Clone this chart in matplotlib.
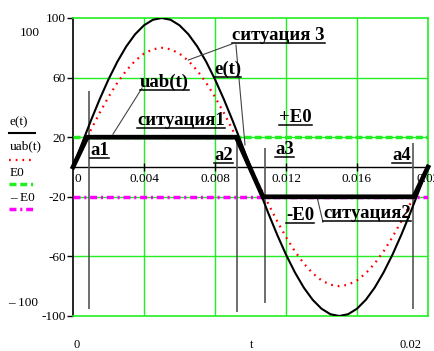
import matplotlib
matplotlib.use("Agg")
import matplotlib.pyplot as plt
from matplotlib.lines import Line2D
from matplotlib.transforms import offset_copy

plt.rcParams["font.family"] = ["Liberation Serif", "DejaVu Serif"]
plt.rcParams["axes.unicode_minus"] = False

# --- data ----------------------------------------------------------------
# time samples, every 0.5 ms over one period
t = [i * 0.0005 for i in range(41)]
# e(t), source voltage
e_vals = [0, 15.6, 30.9, 45.4, 58.8, 70.7, 80.9, 89.1, 95.1, 98.8,
          100, 98.8, 95.1, 89.1, 80.9, 70.7, 58.8, 45.4, 30.9, 15.6,
          0, -15.6, -30.9, -45.4, -58.8, -70.7, -80.9, -89.1, -95.1, -98.8,
          -100, -98.8, -95.1, -89.1, -80.9, -70.7, -58.8, -45.4, -30.9, -15.6, 0]
# uab(t), dotted red
uab_vals = [0, 12.5, 24.7, 36.3, 47.0, 56.6, 64.7, 71.3, 76.1, 79.0,
            80, 79.0, 76.1, 71.3, 64.7, 56.6, 47.0, 36.3, 24.7, 12.5,
            0, -12.5, -24.7, -36.3, -47.0, -56.6, -64.7, -71.3, -76.1, -79.0,
            -80, -79.0, -76.1, -71.3, -64.7, -56.6, -47.0, -36.3, -24.7, -12.5, 0]
# thick piecewise line ("situations")
sit_t = [0, 0.0008, 0.0092, 0.0107, 0.0192, 0.02]
sit_v = [0, 20, 20, -20, -20, 0]
E0 = 20
# switching instants a1..a4 and their marker extents
a_t = [0.0009, 0.00924, 0.0108, 0.01915]
a_top = [51, 20, 13, 16]
a_bot = [-95, -97, -91, -95]

yticks = [100, 60, 20, -20, -60, -100]
xticks = [0.0, 0.004, 0.008, 0.012, 0.016, 0.02]
xtick_labels = ["0", "0.004", "0.008", "0.012", "0.016", "0.02"]

GREEN = "#22ee22"
MAGENTA = "#ff00ff"

fig = plt.figure(figsize=(4.35, 3.51), dpi=100)
ax = fig.add_axes([73 / 435, 35 / 351, 355 / 435, 298 / 351])
ax.set_xlim(0, 0.02)
ax.set_ylim(-100, 100)

# frame + grid, Mathcad style
for side in ("top", "right", "bottom"):
    ax.spines[side].set_color(GREEN)
    ax.spines[side].set_linewidth(1.2)
ax.spines["left"].set_color("black")
ax.spines["left"].set_linewidth(1.2)
for x in xticks[1:-1]:
    ax.axvline(x, color=GREEN, lw=1.0, zorder=1)
for y in yticks[1:-1]:
    ax.axhline(y, color=GREEN, lw=1.0, zorder=1)
ax.axhline(0, color="black", lw=1.0, zorder=2)
ax.vlines(xticks[1:-1], -2.5, 2.5, color="black", lw=1.0, zorder=2)

ax.set_xticks([])
ax.set_yticks(yticks)
ax.set_yticklabels([str(v) for v in yticks])
ax.tick_params(axis="y", direction="out", length=4, width=1, pad=1,
               labelsize=9.5, colors="black")

for x, lab in zip(xticks, xtick_labels):
    tr = offset_copy(ax.transData, fig=fig, x=1 if x == 0 else 0, y=-4, units="points")
    ax.text(x, 0, lab, ha="left" if x == 0 else "center", va="top",
            fontsize=9.5, transform=tr, clip_on=False)

# reference levels
ax.plot([0, 0.02], [E0, E0], color=GREEN, lw=2.5, dashes=(2, 0.9), zorder=3)
ax.plot([0, 0.02], [-E0, -E0], color=MAGENTA, lw=2.5,
        dashes=(2, 1.1, 0.6, 1.1), zorder=3)

# markers for a1..a4
ax.vlines(a_t, a_bot, a_top, color="#555555", lw=1.2, zorder=2)

# curves
ax.plot(t, uab_vals, color="red", lw=1.6, dashes=(0.8, 2.2), zorder=4)
ax.plot(t, e_vals, color="black", lw=1.5, zorder=5)
ax.plot(sit_t, sit_v, color="black", lw=3.4, solid_joinstyle="miter",
        zorder=6, clip_on=False)

# leader lines
leaders = [
    ([0.00389, 0.00225], [53, 22]),
    ([0.00896, 0.0065], [82.6, 71.8]),
    ([0.00918, 0.00969], [81.9, 14.8]),
    ([0.01375, 0.01408], [-20.1, -37]),
]
for xs, ys in leaders:
    ax.plot(xs, ys, color="#444444", lw=0.8, zorder=5)

# underlined bold labels (x, y of underline start)
labels = [
    ("uab(t)", 0.00377, 51.7),
    ("ситуация 3", 0.00896, 83.2),
    ("e(t)", 0.00794, 60.4),
    ("ситуация1", 0.0036, 26.2),
    ("+E0", 0.0116, 28.2),
    ("a1", 0.00096, 6.0),
    ("a2", 0.00794, 2.7),
    ("a3", 0.01138, 6.7),
    ("a4", 0.01797, 2.7),
    ("-E0", 0.0120, -37.6),
    ("ситуация2", 0.01408, -36.2),
]
lab_artists = []
for s, x, y in labels:
    tr = offset_copy(ax.transData, fig=fig, x=0, y=2.2, units="points")
    txt = ax.text(x, y, s, fontsize=13.5, fontweight="bold", ha="left",
                  va="baseline", transform=tr, zorder=7)
    lab_artists.append((txt, y))

# legend on the left (figure pixels, top-left origin)
def px(x, y):
    return x / 435, 1 - y / 351

legend = [
    ("e(t)", 122, 133, dict(color="black", lw=1.5)),
    ("uab(t)", 146, 160, dict(color="red", lw=1.6, dashes=(0.8, 2.2))),
    ("E0", 173, 184, dict(color=GREEN, lw=2.5, dashes=(2, 1.1, 2, 1.1, 0.6, 1.1))),
    ("\u2013 E0", 198, 209, dict(color=MAGENTA, lw=2.5, dashes=(2, 1.1, 0.6, 1.1))),
]
for s, ty, ly, style in legend:
    fig.text(*px(10, ty), s, fontsize=9.5, va="center", ha="left")
    (x0, y0), (x1, _) = px(9, ly), px(35, ly)
    fig.add_artist(Line2D([x0, x1], [y0, y0], **style))

# Mathcad range labels outside the plot
fig.text(*px(20, 33), "100", fontsize=9.5, va="center", ha="left")
fig.text(*px(8, 303), "\u2013 100", fontsize=9.5, va="center", ha="left")
fig.text(*px(73, 339), "0", fontsize=9, va="top", ha="left")
fig.text(*px(250, 339), "t", fontsize=9, va="top", ha="left")
fig.text(*px(400, 339), "0.02", fontsize=9, va="top", ha="left")

# underline each label under its own text width
fig.canvas.draw()
r = fig.canvas.get_renderer()
inv = ax.transData.inverted()
for txt, y in lab_artists:
    bb = txt.get_window_extent(r)
    xa = inv.transform((bb.x0, 0))[0]
    xb = inv.transform((bb.x1, 0))[0]
    ax.plot([xa, xb], [y, y], color="black", lw=1.1, zorder=7, clip_on=False)

fig.savefig("out.png", dpi=100)
